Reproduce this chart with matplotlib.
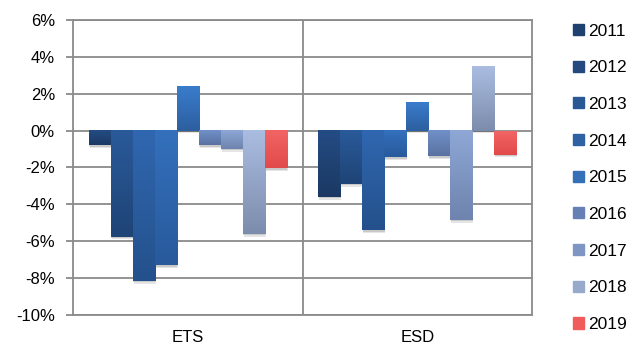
import numpy as np
import matplotlib
matplotlib.use("Agg")
import matplotlib.pyplot as plt
from matplotlib.patches import Patch, Rectangle
from matplotlib.colors import to_rgb

plt.rcParams["font.family"] = ["Liberation Sans", "DejaVu Sans"]

groups = ["ETS", "ESD"]
years = ["2011", "2012", "2013", "2014", "2015", "2016", "2017", "2018", "2019"]
# percent change per year, one list per year: [ETS, ESD]
v2011 = [-0.8, -3.6]
v2012 = [-5.75, -2.9]
v2013 = [-8.15, -5.4]
v2014 = [-7.3, -1.45]
v2015 = [2.4, 1.55]
v2016 = [-0.8, -1.4]
v2017 = [-1.0, -4.85]
v2018 = [-5.6, 3.5]
v2019 = [-2.05, -1.3]
values = [v2011, v2012, v2013, v2014, v2015, v2016, v2017, v2018, v2019]

# gradient colours (top, bottom) per year
top_cols = ["#244c84", "#2a5a9a", "#3067b0", "#3470bc", "#3a7ccc",
            "#7090c8", "#8ea7d5", "#aabde1", "#f26464"]
bot_cols = ["#1b3963", "#1f4476", "#24518c", "#285a9c", "#2c5f9f",
            "#5a72a2", "#6e84ae", "#7c8cac", "#e24a4a"]
legend_cols = ["#1f416f", "#24497f", "#2a5894", "#2f62a4", "#3470b8",
               "#6680b6", "#7f96c4", "#98aacc", "#f05c5c"]

fig = plt.figure(figsize=(6.38, 3.45), dpi=100)
ax = fig.add_axes([0.1144, 0.087, 0.7195, 0.855])

x = np.arange(len(groups))
w = 0.0959
grid_c = "#8a8a8a"

for i, yr in enumerate(years):
    bars = ax.bar(x + (i - 4) * w, values[i], w, color="none", zorder=3)
    for b in bars:
        bx, by, bw, bh = b.get_x(), b.get_y(), b.get_width(), b.get_height()
        y0, y1 = min(by, by + bh), max(by, by + bh)
        # soft shadow
        for k, a in [(0.012, 0.10), (0.006, 0.12)]:
            ax.add_patch(Rectangle((bx + k * 0.3, y0 - k * 12), bw, y1 - y0,
                                   color="black", alpha=a, lw=0, zorder=2))
        grad = np.linspace(0, 1, 64)[:, None]
        c0 = np.array(to_rgb(top_cols[i]))
        c1 = np.array(to_rgb(bot_cols[i]))
        img = (1 - grad)[..., None] * c0 + grad[..., None] * c1
        img = np.repeat(img, 2, axis=1)
        ax.imshow(img, extent=[bx, bx + bw, y0, y1], aspect="auto",
                  origin="upper", zorder=4, interpolation="bilinear")

ax.set_xlim(-0.5, 1.5)
ax.set_ylim(-10, 6)
ax.set_yticks(np.arange(-10, 7, 2))
ax.set_yticklabels([f"{t}%" for t in range(-10, 7, 2)])
ax.set_xticks(x)
ax.set_xticklabels(groups)
ax.grid(axis="y", color=grid_c, lw=1.3, zorder=1)
ax.axvline(0.5, color=grid_c, lw=1.3, zorder=1)
for s in ax.spines.values():
    s.set_color(grid_c)
    s.set_linewidth(1.3)
ax.tick_params(axis="y", length=5, width=1.3, color=grid_c, pad=8, labelsize=12)
ax.tick_params(axis="x", length=0, pad=10.5, labelsize=12)

handles = [Patch(color=c) for c in legend_cols]
fig.legend(handles, years, loc="upper left", bbox_to_anchor=(0.888, 0.952),
           frameon=False, fontsize=12.5, handlelength=0.6, handleheight=0.6,
           handletextpad=0.25, labelspacing=1.25, borderaxespad=0)

fig.savefig("out.png", dpi=100)
